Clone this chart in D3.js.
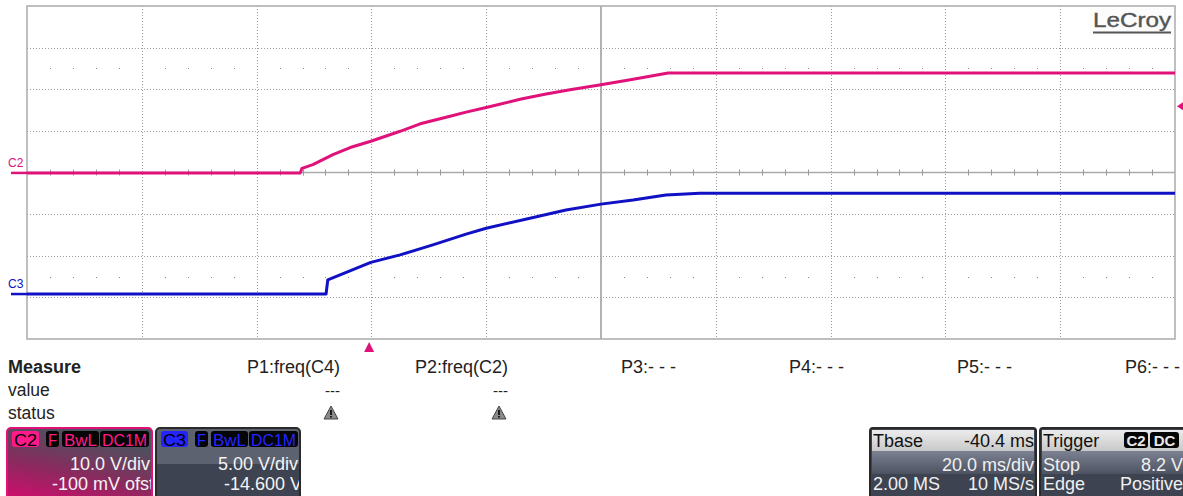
<!DOCTYPE html>
<html>
<head>
<meta charset="utf-8">
<script src="https://cdn.jsdelivr.net/npm/d3@7"></script>
<style>
  body { margin: 0; background: #fff; }
  text { font-family: "Liberation Sans", Arial, sans-serif; }
</style>
</head>
<body>
<svg id="scope" width="1183" height="496"></svg>
<script>
// Timebase / channel settings
const msPerDiv = 20;
const triggerDelay = 40.4;     // Tbase -40.4 ms -> trigger sits 40.4 ms left of centre
const c2VoltsPerDiv = 10, c2Offset = -0.1;
const c3VoltsPerDiv = 5, c3Offset = -14.6;
const trigMarkerVolts = 16;    // level marker on right edge (C2 scale)

// C2 trace (ms, V)
const c2Time  = [-59.6, -12.0, -11.7, -9.8, -6.3, -3.3, 0.3, 5.4, 8.9, 14.1, 16.9, 20.4, 26.3, 30.6, 35.0, 40.4, 46.0, 52.1, 140.4];
const c2Volts = [0, 0, 1.1, 2.0, 4.4, 6.1, 7.6, 10.0, 11.8, 13.6, 14.6, 15.7, 17.7, 18.9, 20.0, 21.2, 22.5, 24.0, 24.0];

// C3 trace (ms, V)
const c3Time  = [-59.6, -7.5, -7.2, 0.3, 5.4, 11.1, 16.9, 20.4, 28.6, 34.3, 40.4, 46.0, 51.7, 57.6, 140.4];
const c3Volts = [0, 0, 1.7, 3.8, 4.7, 5.9, 7.2, 7.9, 9.2, 10.1, 10.8, 11.3, 11.9, 12.1, 12.1];

// Measurement table
const measureParams = ["P1:freq(C4)", "P2:freq(C2)", "P3:- - -", "P4:- - -", "P5:- - -", "P6:- - -"];
const measureValues = ["---", "---", "", "", "", ""];
const measureStatus = [true, true, false, false, false, false];

const svg = d3.select("#scope");
const pink = "#e0127a", blue = "#1010c4";

// Grid geometry
const gx0 = 27, gx1 = 1175, gy0 = 6, gy1 = 339;
const xDiv = d3.scaleLinear().domain([0, 10]).range([gx0, gx1]);
const yDiv = d3.scaleLinear().domain([-4, 4]).range([gy1, gy0]);

const tCenter = triggerDelay;
const x = d3.scaleLinear()
  .domain([tCenter - 5 * msPerDiv, tCenter + 5 * msPerDiv])
  .range([gx0, gx1]);
const yC2 = d3.scaleLinear()
  .domain([-c2Offset - 4 * c2VoltsPerDiv, -c2Offset + 4 * c2VoltsPerDiv])
  .range([gy1, gy0]);
const yC3 = d3.scaleLinear()
  .domain([-c3Offset - 4 * c3VoltsPerDiv, -c3Offset + 4 * c3VoltsPerDiv])
  .range([gy1, gy0]);

const grid = svg.append("g");

// dotted division lines
grid.selectAll("line.vdiv")
  .data(d3.range(1, 10).filter(d => d !== 5))
  .join("line")
  .attr("x1", d => Math.round(xDiv(d)) + 0.5).attr("x2", d => Math.round(xDiv(d)) + 0.5)
  .attr("y1", gy0).attr("y2", gy1)
  .attr("stroke", "#9a9a9a").attr("stroke-dasharray", "1,2");

grid.selectAll("line.hdiv")
  .data(d3.range(-3, 4).filter(d => d !== 0))
  .join("line")
  .attr("x1", gx0).attr("x2", gx1)
  .attr("y1", d => Math.round(yDiv(d)) + 0.5).attr("y2", d => Math.round(yDiv(d)) + 0.5)
  .attr("stroke", "#9a9a9a").attr("stroke-dasharray", "1,2");

// sub-division dots at +/-2.5 div
const subX = d3.range(0, 50).filter(k => k % 5 !== 0).map(k => k / 5);
[2.5, -2.5].forEach(row => {
  grid.append("g").selectAll("rect")
    .data(subX)
    .join("rect")
    .attr("x", d => Math.round(xDiv(d))).attr("y", Math.round(yDiv(row)))
    .attr("width", 1).attr("height", 1)
    .attr("fill", "#888");
});

// centre axes with ticks
grid.append("line")
  .attr("x1", gx0).attr("x2", gx1)
  .attr("y1", yDiv(0)).attr("y2", yDiv(0))
  .attr("stroke", "#aaa").attr("stroke-width", 1.5);
grid.append("line")
  .attr("x1", xDiv(5)).attr("x2", xDiv(5))
  .attr("y1", gy0).attr("y2", gy1)
  .attr("stroke", "#aaa").attr("stroke-width", 1.8);
grid.append("g").selectAll("line")
  .data(subX)
  .join("line")
  .attr("x1", d => Math.round(xDiv(d)) + 0.5).attr("x2", d => Math.round(xDiv(d)) + 0.5)
  .attr("y1", yDiv(0) - 3).attr("y2", yDiv(0) + 3)
  .attr("stroke", "#999");

// frame
grid.append("rect")
  .attr("x", gx0).attr("y", gy0)
  .attr("width", gx1 - gx0).attr("height", gy1 - gy0)
  .attr("fill", "none").attr("stroke", "#aaa").attr("stroke-width", 1.5);

// LeCroy logo
svg.append("rect").attr("x", 1089).attr("y", 8).attr("width", 85).attr("height", 28).attr("fill", "#fcfcfc");
svg.append("text")
  .attr("x", 1093).attr("y", 27)
  .attr("font-size", 21).attr("fill", "#555").attr("stroke", "#555").attr("stroke-width", 0.4)
  .attr("textLength", 78).attr("lengthAdjust", "spacingAndGlyphs")
  .text("LeCroy");
svg.append("line").attr("x1", 1093).attr("x2", 1171).attr("y1", 32.5).attr("y2", 32.5)
  .attr("stroke", "#555").attr("stroke-width", 2);

// traces
const lineC2 = d3.line().x((d, i) => x(c2Time[i])).y(d => yC2(d));
const lineC3 = d3.line().x((d, i) => x(c3Time[i])).y(d => yC3(d));

svg.append("path").datum(c2Volts).attr("d", lineC2)
  .attr("fill", "none").attr("stroke", pink).attr("stroke-width", 3).attr("stroke-linejoin", "round");
svg.append("path").datum(c3Volts).attr("d", lineC3)
  .attr("fill", "none").attr("stroke", blue).attr("stroke-width", 3).attr("stroke-linejoin", "round");

// channel ground markers
[[yC2(0), pink, "C2"], [yC3(0), blue, "C3"]].forEach(([gy, col, lab]) => {
  svg.append("line").attr("x1", 11).attr("x2", gx0).attr("y1", gy).attr("y2", gy)
    .attr("stroke", col).attr("stroke-width", 2.5);
  svg.append("text").attr("x", 8).attr("y", gy - 6)
    .attr("font-size", 12).attr("fill", col).text(lab);
});

// trigger position marker (bottom) and level marker (right)
const tx = x(0);
svg.append("path")
  .attr("d", `M${tx - 5},352 L${tx + 5},352 L${tx},342 Z`)
  .attr("fill", pink);
const ty = yC2(trigMarkerVolts);
svg.append("path")
  .attr("d", `M1177,${ty} L1183,${ty - 4} L1183,${ty + 4} Z`)
  .attr("fill", pink);

// measurement table
svg.append("text").attr("x", 8).attr("y", 373)
  .attr("font-size", 18).attr("font-weight", "bold").attr("fill", "#222").text("Measure");
svg.append("text").attr("x", 8).attr("y", 396).attr("font-size", 17.5).attr("fill", "#222").text("value");
svg.append("text").attr("x", 8).attr("y", 419).attr("font-size", 17.5).attr("fill", "#222").text("status");

const colX = d3.scalePoint().domain(d3.range(6)).range([340, 1180]);
const cols = svg.append("g").selectAll("g")
  .data(measureParams)
  .join("g")
  .attr("transform", (d, i) => `translate(${colX(i)},0)`);
cols.append("text").attr("y", 373).attr("text-anchor", "end")
  .attr("font-size", 18).attr("fill", "#222").text(d => d);
cols.append("text").attr("y", 396).attr("text-anchor", "end")
  .attr("font-size", 15).attr("fill", "#222").text((d, i) => measureValues[i]);
cols.filter((d, i) => measureStatus[i]).append("g")
  .attr("transform", "translate(-9,413)")
  .call(g => {
    g.append("path").attr("d", "M0,-7 L7,6 L-7,6 Z")
      .attr("fill", "#8a8a8a").attr("stroke", "#444").attr("stroke-width", 1).attr("stroke-linejoin", "round");
    g.append("rect").attr("x", -0.9).attr("y", -3).attr("width", 1.8).attr("height", 5).attr("fill", "#111");
    g.append("rect").attr("x", -0.9).attr("y", 3).attr("width", 1.8).attr("height", 1.6).attr("fill", "#111");
  });

// ---- bottom info boxes ----
const defs = svg.append("defs");
const gC2 = defs.append("linearGradient").attr("id", "gC2")
  .attr("x1", 0.15).attr("y1", 1).attr("x2", 0.55).attr("y2", 0.1);
gC2.append("stop").attr("offset", 0).attr("stop-color", "#c8106c");
gC2.append("stop").attr("offset", 0.45).attr("stop-color", "#8a2a5e");
gC2.append("stop").attr("offset", 1).attr("stop-color", "#4c515e");
const gRow = defs.append("linearGradient").attr("id", "gRow").attr("x1", 0).attr("y1", 0).attr("x2", 0).attr("y2", 1);
gRow.append("stop").attr("offset", 0).attr("stop-color", "#7c8292");
gRow.append("stop").attr("offset", 1).attr("stop-color", "#4c5260");
const gHead = defs.append("linearGradient").attr("id", "gHead").attr("x1", 0).attr("y1", 0).attr("x2", 0).attr("y2", 1);
gHead.append("stop").attr("offset", 0).attr("stop-color", "#ececec");
gHead.append("stop").attr("offset", 1).attr("stop-color", "#c8c8c8");

function badge(g, bx, w, label, fill, col) {
  g.append("rect").attr("x", bx).attr("y", 431).attr("width", w).attr("height", 16).attr("rx", 3)
    .attr("fill", fill);
  g.append("text").attr("x", bx + w / 2).attr("y", 445.5).attr("text-anchor", "middle")
    .attr("font-size", 17).attr("fill", col)
    .attr("textLength", w - 4).attr("lengthAdjust", "spacingAndGlyphs")
    .text(label);
}

function channelBox(bx, bw, id, col, bg, border, vdiv, ofs) {
  const g = svg.append("g");
  defs.append("clipPath").attr("id", "clip" + id)
    .append("rect").attr("x", bx).attr("y", 428).attr("width", bw).attr("height", 80).attr("rx", 4);
  const inner = g.append("g").attr("clip-path", `url(#clip${id})`);
  if (bg) {
    inner.append("rect").attr("x", bx).attr("y", 428).attr("width", bw).attr("height", 70).attr("fill", bg);
  } else {
    inner.append("rect").attr("x", bx).attr("y", 428).attr("width", bw).attr("height", 36).attr("fill", "#5c6270");
    inner.append("rect").attr("x", bx).attr("y", 464).attr("width", bw).attr("height", 34).attr("fill", "#3e4351");
  }
  g.append("rect").attr("x", bx).attr("y", 428).attr("width", bw).attr("height", 80).attr("rx", 4)
    .attr("fill", "none").attr("stroke", border).attr("stroke-width", 2);
  badge(g, bx + 5, 27, id, col, "#000");
  const bxs = [[bx + 39, 13, "F"], [bx + 55, 37, "BwL"], [bx + 93, 49, "DC1M"]];
  bxs.forEach(([px, w, t]) => badge(g, px, w, t, "#050505", col));
  inner.append("text").attr("x", bx + bw - 2).attr("y", 470).attr("text-anchor", "end")
    .attr("font-size", 18).attr("fill", "#f4f4f4").text(vdiv);
  inner.append("text").attr("x", bx + bw + 2).attr("y", 490).attr("text-anchor", "end")
    .attr("font-size", 18).attr("fill", "#f4f4f4").text(ofs);
}

channelBox(7, 145, "C2", "#ff1a8c", "url(#gC2)", pink, `${c2VoltsPerDiv.toFixed(1)} V/div`, "-100 mV ofst");
channelBox(156, 144, "C3", "#2424ff", null, "#2a2a2a", `${c3VoltsPerDiv.toFixed(2)} V/div`, `${c3Offset.toFixed(3)} V`);

function infoBox(bx, bw, head, headRight, rows) {
  const g = svg.append("g");
  g.append("rect").attr("x", bx).attr("y", 428).attr("width", bw).attr("height", 80).attr("rx", 3)
    .attr("fill", "#3e4351").attr("stroke", "#2a2a2a").attr("stroke-width", 2);
  g.append("rect").attr("x", bx + 2).attr("y", 430).attr("width", bw - 4).attr("height", 21).attr("fill", "url(#gHead)");
  g.append("rect").attr("x", bx + 2).attr("y", 451).attr("width", bw - 4).attr("height", 23).attr("fill", "url(#gRow)");
  g.append("text").attr("x", bx + 3).attr("y", 447).attr("font-size", 18).attr("fill", "#111").text(head);
  headRight(g);
  rows.forEach(([l, r], i) => {
    const yy = 471 + i * 19;
    g.append("text").attr("x", bx + 3).attr("y", yy).attr("font-size", 18).attr("fill", "#f0f0f0").text(l);
    g.append("text").attr("x", bx + bw - 2).attr("y", yy).attr("text-anchor", "end")
      .attr("font-size", 18).attr("fill", "#f0f0f0").text(r);
  });
}

infoBox(870, 166, "Tbase",
  g => g.append("text").attr("x", 1034).attr("y", 447).attr("text-anchor", "end")
    .attr("font-size", 18).attr("fill", "#111").text(`${(-triggerDelay).toFixed(1)} ms`),
  [["", `${msPerDiv.toFixed(1)} ms/div`], ["2.00 MS", "10 MS/s"]]);

infoBox(1040, 145, "Trigger",
  g => {
    [[1124, 24, "C2"], [1150, 29, "DC"]].forEach(([px, w, t]) => {
      g.append("rect").attr("x", px).attr("y", 432).attr("width", w).attr("height", 16).attr("rx", 3).attr("fill", "#050505");
      g.append("text").attr("x", px + w / 2).attr("y", 446).attr("text-anchor", "middle")
        .attr("font-size", 15).attr("font-weight", "bold").attr("fill", "#e8e8e8").text(t);
    });
  },
  [["Stop", "8.2 V"], ["Edge", "Positive"]]);
</script>
</body>
</html>
